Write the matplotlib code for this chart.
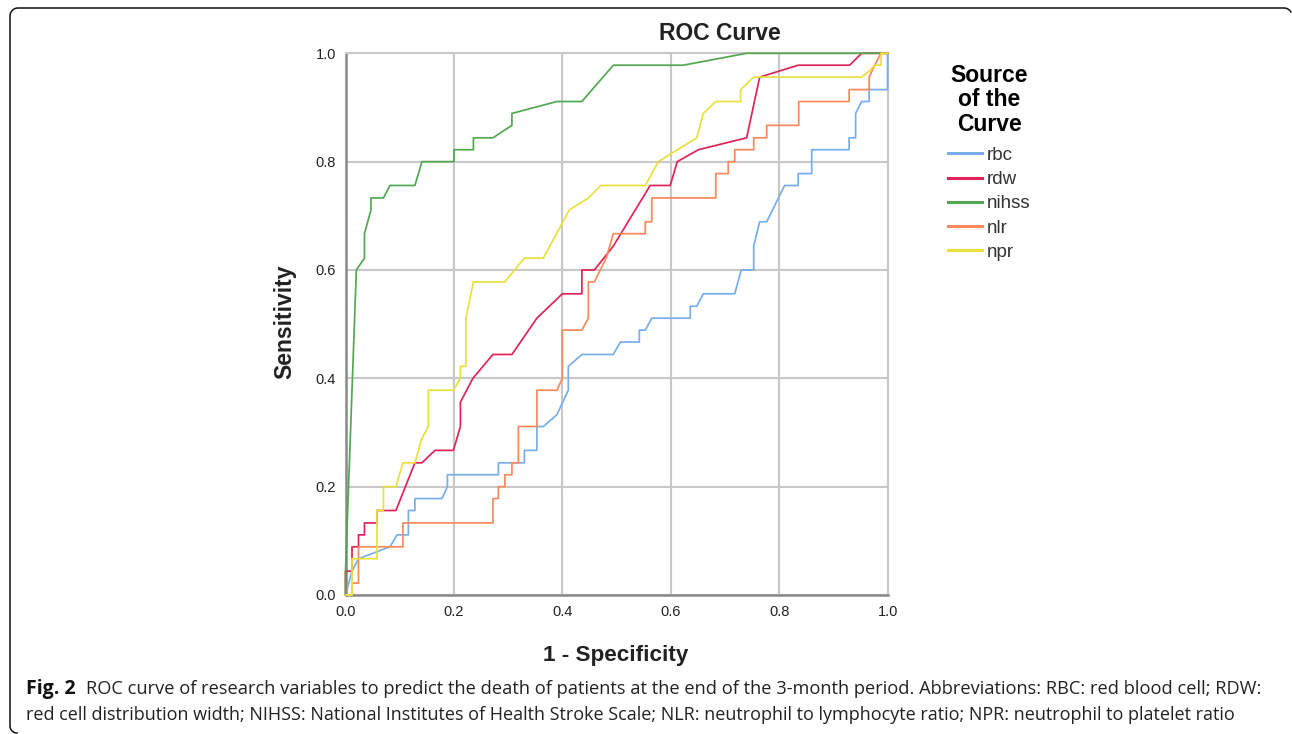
import matplotlib
matplotlib.use('Agg')
import matplotlib.pyplot as plt
from matplotlib.lines import Line2D
import numpy as np

# ROC points: (1 - specificity, sensitivity)
rbc = [(0, 0), (0.012, 0.044), (0.024, 0.067), (0.082, 0.089), (0.095, 0.111),
       (0.116, 0.111), (0.116, 0.156), (0.128, 0.156), (0.128, 0.178), (0.178, 0.178),
       (0.188, 0.2), (0.188, 0.222), (0.282, 0.222), (0.282, 0.244), (0.33, 0.244),
       (0.33, 0.267), (0.353, 0.267), (0.353, 0.311), (0.365, 0.311), (0.39, 0.333),
       (0.411, 0.378), (0.411, 0.422), (0.436, 0.444), (0.494, 0.444), (0.507, 0.467),
       (0.542, 0.467), (0.542, 0.489), (0.553, 0.489), (0.565, 0.511), (0.636, 0.511),
       (0.636, 0.533), (0.648, 0.533), (0.66, 0.556), (0.718, 0.556), (0.73, 0.6),
       (0.753, 0.6), (0.753, 0.644), (0.764, 0.689), (0.777, 0.689), (0.81, 0.756),
       (0.835, 0.756), (0.835, 0.778), (0.86, 0.778), (0.86, 0.822), (0.929, 0.822),
       (0.929, 0.844), (0.941, 0.844), (0.941, 0.889), (0.952, 0.911), (0.966, 0.911),
       (0.966, 0.933), (1.0, 0.933), (1.0, 1.0)]

rdw = [(0, 0), (0, 0.044), (0.012, 0.044), (0.012, 0.089), (0.024, 0.089),
       (0.024, 0.111), (0.035, 0.111), (0.035, 0.133), (0.058, 0.133), (0.058, 0.156),
       (0.093, 0.156), (0.128, 0.244), (0.141, 0.244), (0.165, 0.267), (0.199, 0.267),
       (0.212, 0.311), (0.212, 0.356), (0.235, 0.4), (0.272, 0.444), (0.307, 0.444),
       (0.353, 0.511), (0.4, 0.556), (0.436, 0.556), (0.436, 0.6), (0.459, 0.6),
       (0.494, 0.644), (0.562, 0.756), (0.599, 0.756), (0.612, 0.8), (0.651, 0.822),
       (0.74, 0.844), (0.764, 0.956), (0.835, 0.978), (0.93, 0.978), (0.952, 1.0),
       (1.0, 1.0)]

nihss = [(0, 0), (0, 0.044), (0.02, 0.6), (0.035, 0.622), (0.035, 0.667),
         (0.047, 0.711), (0.047, 0.733), (0.07, 0.733), (0.082, 0.756), (0.128, 0.756),
         (0.141, 0.8), (0.2, 0.8), (0.2, 0.822), (0.236, 0.822), (0.236, 0.844),
         (0.272, 0.844), (0.307, 0.867), (0.307, 0.889), (0.39, 0.911), (0.436, 0.911),
         (0.494, 0.978), (0.623, 0.978), (0.74, 1.0), (1.0, 1.0)]

nlr = [(0, 0), (0.012, 0), (0.012, 0.022), (0.024, 0.022), (0.024, 0.089),
       (0.106, 0.089), (0.106, 0.133), (0.272, 0.133), (0.272, 0.178), (0.282, 0.178),
       (0.282, 0.2), (0.294, 0.2), (0.294, 0.222), (0.307, 0.222), (0.307, 0.244),
       (0.319, 0.244), (0.319, 0.311), (0.353, 0.311), (0.353, 0.378), (0.39, 0.378),
       (0.4, 0.4), (0.4, 0.489), (0.436, 0.489), (0.448, 0.511), (0.448, 0.578),
       (0.459, 0.578), (0.47, 0.6), (0.481, 0.622), (0.494, 0.667), (0.553, 0.667),
       (0.553, 0.689), (0.565, 0.689), (0.565, 0.733), (0.683, 0.733), (0.683, 0.778),
       (0.706, 0.778), (0.706, 0.8), (0.718, 0.8), (0.718, 0.822), (0.753, 0.822),
       (0.753, 0.844), (0.777, 0.844), (0.777, 0.867), (0.836, 0.867), (0.836, 0.911),
       (0.929, 0.911), (0.929, 0.933), (0.966, 0.933), (0.966, 0.956), (0.976, 0.978),
       (0.988, 1.0), (1.0, 1.0)]

npr = [(0, 0), (0.012, 0), (0.012, 0.067), (0.058, 0.067), (0.058, 0.156),
       (0.07, 0.156), (0.07, 0.2), (0.093, 0.2), (0.106, 0.244), (0.128, 0.244),
       (0.141, 0.289), (0.153, 0.311), (0.153, 0.378), (0.199, 0.378), (0.212, 0.4),
       (0.212, 0.422), (0.222, 0.422), (0.222, 0.511), (0.236, 0.578), (0.294, 0.578),
       (0.33, 0.622), (0.365, 0.622), (0.413, 0.711), (0.448, 0.733), (0.471, 0.756),
       (0.553, 0.756), (0.577, 0.8), (0.648, 0.844), (0.66, 0.889), (0.683, 0.911),
       (0.729, 0.911), (0.729, 0.933), (0.753, 0.956), (0.952, 0.956), (0.966, 0.967),
       (0.976, 0.978), (0.988, 0.978), (0.988, 1.0), (1.0, 1.0)]

names = ['rbc', 'rdw', 'nihss', 'nlr', 'npr']
colors = ['#78aeec', '#e0245a', '#52a852', '#f8895c', '#e9e03c']
ticks = [0.0, 0.2, 0.4, 0.6, 0.8, 1.0]
tick_labels = ['0.0', '0.2', '0.4', '0.6', '0.8', '1.0']

caption_bold = 'Fig. 2'
caption_1 = ('ROC curve of research variables to predict the death of patients at the end '
             'of the 3-month period. Abbreviations: RBC: red blood cell; RDW:')
caption_2 = ('red cell distribution width; NIHSS: National Institutes of Health Stroke Scale; '
             'NLR: neutrophil to lymphocyte ratio; NPR: neutrophil to platelet ratio')

W, H = 1292, 734
plt.rcParams['font.family'] = ['Liberation Sans', 'DejaVu Sans']

fig = plt.figure(figsize=(W / 100, H / 100), dpi=100)
ax = fig.add_axes([345.5 / W, 1 - 595 / H, (887.6 - 345.5) / W, (595 - 53.3) / H])

for pts, name, col in zip([rbc, rdw, nihss, nlr, npr], names, colors):
    x, y = zip(*pts)
    ax.plot(x, y, color=col, lw=1.25, label=name, clip_on=False, zorder=3)

ax.set_xlim(0, 1)
ax.set_ylim(0, 1)
ax.set_xticks(ticks)
ax.set_xticklabels(tick_labels)
ax.set_yticks(ticks)
ax.set_yticklabels(tick_labels)
ax.tick_params(length=0, pad=7, labelsize=10.5, labelcolor='#222222')
ax.grid(True, color='#c8c8c8', lw=1.5)
ax.set_axisbelow(True)
for s in ['top', 'right']:
    ax.spines[s].set_color('#c8c8c8')
    ax.spines[s].set_linewidth(1.5)
for s in ['left', 'bottom']:
    ax.spines[s].set_color('#8a8a8a')
    ax.spines[s].set_linewidth(1.8)

# titles and axis labels
fig.text(720 / W, 1 - 33 / H, 'ROC Curve', ha='center', va='center',
         fontsize=16.5, fontweight='bold', color='#222222')
fig.text(616 / W, 1 - 656 / H, '1 - Specificity', ha='center', va='center',
         fontsize=16.2, fontweight='bold', color='#222222')
fig.text(285 / W, 1 - 322 / H, 'Sensitivity', ha='center', va='center', rotation=90,
         fontsize=16.5, fontweight='bold', color='#222222')

# legend
leg = ax.legend(loc='upper left', bbox_to_anchor=(935 / W, 1 - 51 / H),
                bbox_transform=fig.transFigure, frameon=False,
                title='Source\nof the\nCurve', fontsize=13.5,
                handlelength=1.8, handletextpad=0.27, labelspacing=0.38,
                borderpad=0.2)
leg.get_title().set_fontweight('bold')
leg.get_title().set_fontsize(16.5)
leg.get_title().set_multialignment('center')
leg.get_title().set_linespacing(1.07)
leg._legend_box.sep = 8
for h in leg.get_lines():
    h.set_linewidth(2.2)
for t in leg.get_texts():
    t.set_color('#333333')

# caption, fitted to the width used in the source
r = fig.canvas.get_renderer()
cy1, cy2 = 1 - 689 / H, 1 - 715 / H
tb = fig.text(26 / W, cy1, caption_bold, fontsize=14, fontweight='bold',
              family='Open Sans', va='center', color='#111111')
t1 = fig.text(86 / W, cy1, caption_1, fontsize=12.5, family='Open Sans',
              va='center', color='#222222')
w1 = t1.get_window_extent(r).width
t1.set_fontsize(12.5 * (1267 - 86) / w1)
t2 = fig.text(26 / W, cy2, caption_2, fontsize=12.5, family='Open Sans', va='center',
              color='#222222')
w2 = t2.get_window_extent(r).width
t2.set_fontsize(12.5 * (1243 - 26) / w2)

# frame around the figure panel
def arc(cx, cy, rad, a0, a1):
    a = np.radians(np.linspace(a0, a1, 12))
    return cx + rad * np.cos(a), cy + rad * np.sin(a)

xs, ys = [], []
ax_, ay_ = arc(17, 726, 7, 90, 180)
xs += list(ax_); ys += list(ay_)
ax_, ay_ = arc(18, 16, 8, 180, 270)
xs += list(ax_); ys += list(ay_)
ax_, ay_ = arc(1284, 16, 8, 270, 330)
xs += list(ax_); ys += list(ay_)
fig.add_artist(Line2D(np.array(xs) / W, 1 - np.array(ys) / H, color='#111111',
                      lw=1.1, transform=fig.transFigure))

fig.savefig('out.png', dpi=100)
